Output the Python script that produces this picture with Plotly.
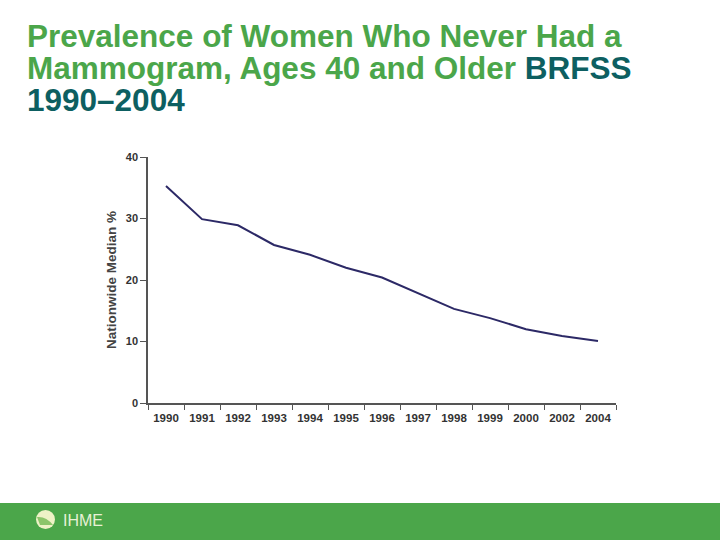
import plotly.graph_objects as go

years = ['1990', '1991', '1992', '1993', '1994', '1995', '1996',
         '1997', '1998', '1999', '2000', '2002', '2004']
never_mammogram = [35.3, 29.9, 28.9, 25.7, 24.1, 22.0, 20.4,
                   17.9, 15.3, 13.8, 12.0, 10.9, 10.1]
y_ticks = [0, 10, 20, 30, 40]

GREEN = '#4ba64a'
TEAL = '#0d5f61'
FONT = 'Liberation Sans, Arial, sans-serif'

# plot area in pixels
L, R, T, B = 148, 616, 157, 403


def px_x(x):
    return (x - L) / (R - L)


def px_y(y):
    return (B - y) / (B - T)


fig = go.Figure(go.Scatter(x=years, y=never_mammogram, mode='lines',
                           line=dict(color='#2c2966', width=2),
                           hoverinfo='x+y'))

fig.update_layout(
    width=720, height=540,
    margin=dict(l=L, r=720 - R, t=T, b=540 - B),
    paper_bgcolor='white', plot_bgcolor='white',
    showlegend=False,
    font=dict(family=FONT, color='#333'),
)
fig.update_xaxes(type='category', range=[-0.5, len(years) - 0.5],
                 showgrid=False, showline=True,
                 linecolor='#555', linewidth=1.5, ticks='outside',
                 tickson='boundaries', ticklen=5, tickcolor='#555',
                 ticklabelstandoff=3,
                 tickfont=dict(size=11.5, color='#333', weight='bold'))
fig.update_yaxes(range=[0, 40], tickvals=y_ticks, showgrid=False,
                 zeroline=False, showline=True, linecolor='#555',
                 linewidth=1.5, ticks='outside', ticklen=6, tickcolor='#555',
                 tickfont=dict(size=11, color='#333', weight='bold'),
                 title=dict(text='Nationwide Median %', standoff=6,
                            font=dict(size=13.5, color='#444', weight='bold')))

# title lines
title_lines = [
    'Prevalence of Women Who Never Had a',
    'Mammogram, Ages 40 and Older <span style="color:%s">BRFSS</span>' % TEAL,
    '<span style="color:%s">1990–2004</span>' % TEAL,
]
for i, line in enumerate(title_lines):
    fig.add_annotation(text=line, xref='paper', yref='paper',
                       x=px_x(25), y=px_y(36 + 32 * i), xanchor='left',
                       yanchor='middle', showarrow=False,
                       font=dict(size=31.5, color=GREEN, family=FONT,
                                 weight='bold'))

# footer band with logo
fig.add_shape(type='rect', xref='paper', yref='paper',
              x0=px_x(0), x1=px_x(720), y0=px_y(503), y1=px_y(541),
              fillcolor=GREEN, line_width=0, layer='below')
fig.add_shape(type='circle', xref='paper', yref='paper',
              x0=px_x(36), x1=px_x(55), y0=px_y(510), y1=px_y(529),
              fillcolor='#eef2c6', line_width=0)
fig.add_shape(type='path', xref='paper', yref='paper',
              path='M %f %f Q %f %f %f %f L %f %f Z' % (
                  px_x(37), px_y(517), px_x(46), px_y(516), px_x(53), px_y(525),
                  px_x(40), px_y(525)),
              fillcolor='#8cc56a', line_width=0)
fig.add_annotation(text='IHME', xref='paper', yref='paper',
                   x=px_x(61), y=px_y(520), xanchor='left', yanchor='middle',
                   showarrow=False,
                   font=dict(size=16, color='#e8f1d6', family=FONT))

fig.write_html('out.html', config={'displayModeBar': False},
               post_script="document.body.style.margin='0';")
